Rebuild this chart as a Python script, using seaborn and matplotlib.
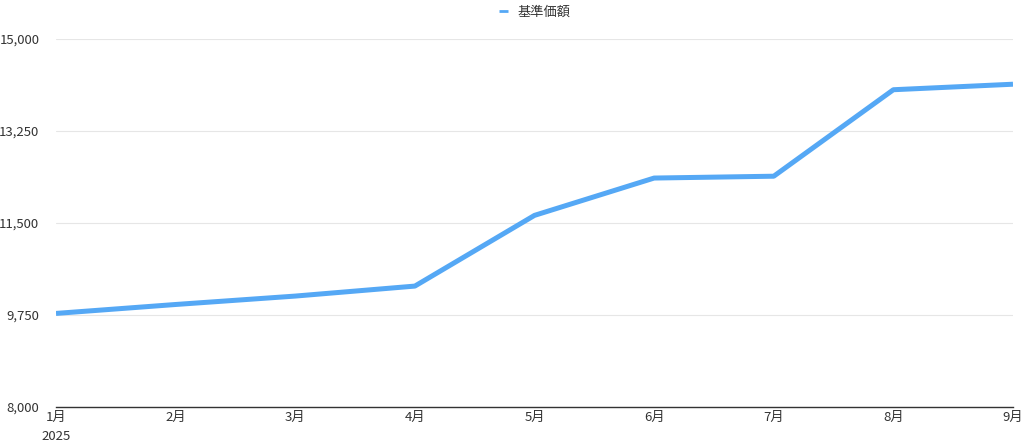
import pandas as pd
import matplotlib.pyplot as plt
import seaborn as sns

# data
months = ['1月', '2月', '3月', '4月', '5月', '6月', '7月', '8月', '9月']
nav = [9780, 9950, 10110, 10300, 11645, 12355, 12390, 14035, 14140]
yticks = [8000, 9750, 11500, 13250, 15000]

df = pd.DataFrame({'pos': range(len(months)), 'month': months, '基準価額': nav})

sns.set_theme(style='white')
plt.rcParams['font.family'] = ['Noto Sans CJK JP', 'DejaVu Sans']

fig = plt.figure(figsize=(10.24, 4.42), dpi=100)
ax = fig.add_axes([56 / 1024, 1 - 407 / 442, (1013 - 56) / 1024, (407 - 39) / 442])

sns.lineplot(data=df, x='pos', y='基準価額', color='#55a8f5', linewidth=3.6,
             label='基準価額', ax=ax, solid_capstyle='butt')

ax.set_xlim(0, len(months) - 1)
ax.set_ylim(yticks[0], yticks[-1])
ax.set_yticks(yticks)
ax.set_yticklabels([f'{v:,}' for v in yticks])
ax.set_xticks(df['pos'])
ax.set_xticklabels(['1月\n2025'] + months[1:])
ax.tick_params(axis='both', labelsize=9.5, colors='#333333', length=0)
ax.tick_params(axis='y', pad=12)
ax.tick_params(axis='x', pad=3)
for lab in ax.get_xticklabels():
    lab.set_linespacing(1.6)

ax.grid(axis='y', color='#e6e6e6', linewidth=0.8)
ax.grid(axis='x', visible=False)
for s in ['left', 'right', 'top']:
    ax.spines[s].set_visible(False)
ax.spines['bottom'].set_color('#333333')
ax.spines['bottom'].set_linewidth(1.0)
ax.set_xlabel('')
ax.set_ylabel('')

leg = ax.legend(loc='upper center', bbox_to_anchor=(0.5, 1 + 39 / 368), ncol=1,
                frameon=False, fontsize=9.5, handlelength=0.7, handletextpad=0.7,
                borderaxespad=0)
for line in leg.get_lines():
    line.set_linewidth(2)
for t in leg.get_texts():
    t.set_color('#333333')

fig.savefig('out.png', dpi=100)
